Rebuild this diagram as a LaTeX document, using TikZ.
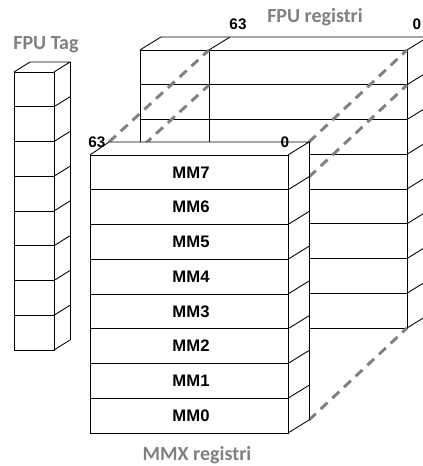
\documentclass[tikz,border=0pt]{standalone}
\usepackage{fontspec}
\setmainfont{Liberation Sans}
\newfontfamily\calfont{Carlito}
\definecolor{titlegray}{RGB}{128,128,128}
\definecolor{dashgray}{RGB}{128,128,128}
\begin{document}
\begin{tikzpicture}[x=0.75pt,y=-0.75pt,
  edge/.style={draw=black,line width=0.65pt},
  proj/.style={draw=dashgray,line width=2.2pt,dash pattern=on 7pt off 5pt},
  title/.style={font=\calfont\bfseries\fontsize{15}{17}\selectfont,text=titlegray,inner sep=0pt},
  bitlbl/.style={font=\bfseries\fontsize{11.5}{13}\selectfont,inner sep=0pt},
  mmlbl/.style={font=\bfseries\fontsize{12.5}{14}\selectfont,inner sep=0pt}]
\useasboundingbox (0,0) rectangle (423,466);
\clip (0,0) rectangle (423,466);
\def\rh{34.75}
% ---------- FPU Tag column ----------
\foreach \i in {0,...,7}{
  \pgfmathsetmacro\ya{72+\i*\rh}
  \pgfmathsetmacro\yb{72+(\i+1)*\rh}
  \draw[edge] (14,\ya) rectangle (54,\yb);
  \draw[edge] (54,\yb) -- (70,\yb-10);
}
\draw[edge] (14,72) -- (30,62) -- (70,62) -- (54,72);
\draw[edge] (70,62) -- (70,340);
% ---------- FPU registers block ----------
\foreach \i in {0,...,7}{
  \pgfmathsetmacro\ya{50+\i*\rh}
  \pgfmathsetmacro\yb{50+(\i+1)*\rh}
  \draw[edge] (140,\ya) rectangle (407,\yb);
  \draw[edge] (407,\yb) -- (428,\yb-13);
}
\draw[edge] (140,50) -- (161,37) -- (430,37);
\draw[edge] (407,50) -- (428,37);
\draw[edge] (209,50) -- (230,37);
\draw[edge] (209,50) -- (209,142);
% ---------- projection lines ----------
\coordinate (m63t) at (109,142);
\coordinate (m63b) at (109,177);
\coordinate (m0t) at (309,142);
\coordinate (m0b) at (309,420);
\coordinate (f63t) at (209,50);
\coordinate (f63b) at (209,85);
\coordinate (f0t) at (407,50);
\coordinate (f0b) at (407,328);
\coordinate (m0c) at (309,177);
\coordinate (f0c) at (407,85);
\draw[proj] (m63t) -- (f63t);
\draw[proj] (m63b) -- (f63b);
\draw[proj] (m0t) -- (f0t);
\draw[proj] (m0c) -- (f0c);
\draw[proj] (m0b) -- (f0b);
% ---------- MMX block ----------
\fill[white] (90,155) -- (109,142) -- (309,142) -- (309,420) -- (288,433) -- (90,433) -- cycle;
\foreach \i/\t in {0/MM7,1/MM6,2/MM5,3/MM4,4/MM3,5/MM2,6/MM1,7/MM0}{
  \pgfmathsetmacro\ya{155+\i*\rh}
  \pgfmathsetmacro\yb{155+(\i+1)*\rh}
  \pgfmathsetmacro\ym{155+(\i+0.5)*\rh}
  \draw[edge] (90,\ya) rectangle (288,\yb);
  \draw[edge] (288,\yb) -- (309,\yb-13);
  \node[mmlbl] (l\t) at (191,\ym) {\t};
}
\draw[edge] (90,155) -- (109,142) -- (309,142) -- (288,155);
\draw[edge] (309,142) -- (309,420);
% ---------- labels ----------
\node[title] (tag) at (46,45) {FPU Tag};
\node[title] (fpu) at (315,17) {FPU registri};
\node[title] (mmx) at (197,455) {MMX registri};
\node[bitlbl] (f63) at (238,24) {63};
\node[bitlbl] (f0) at (417,24) {0};
\node[bitlbl] (m63) at (97,142) {63};
\node[bitlbl] (m0) at (285,142) {0};
\end{tikzpicture}
\end{document}
